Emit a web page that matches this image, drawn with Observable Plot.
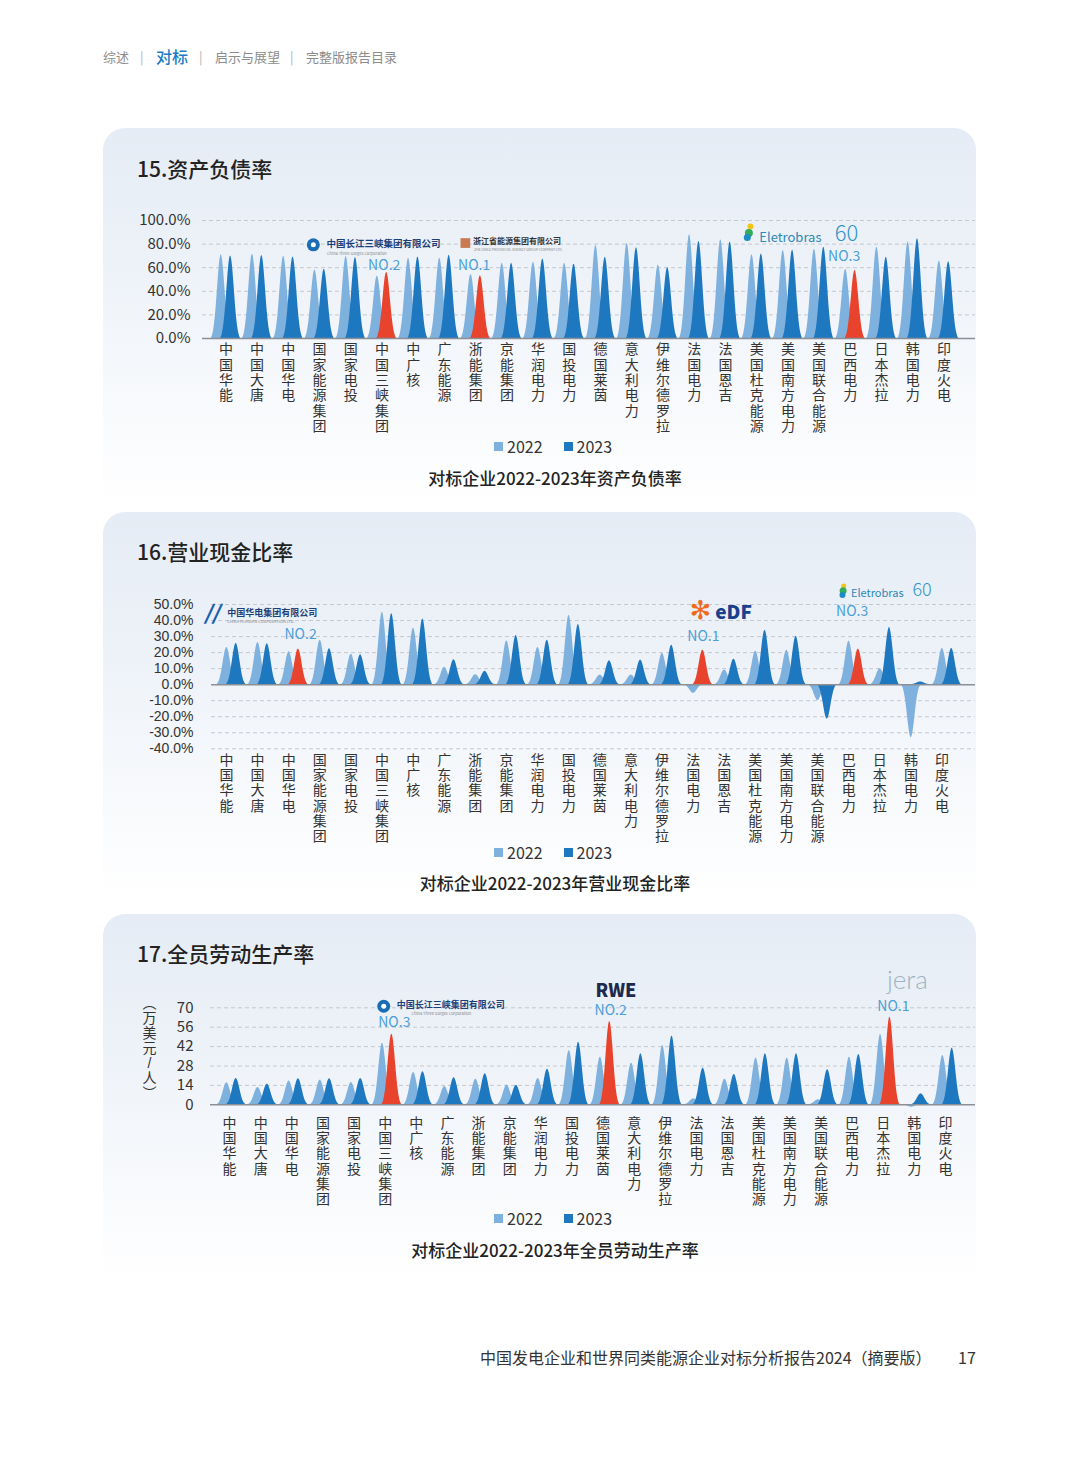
<!DOCTYPE html>
<html><head><meta charset="utf-8">
<script src="https://cdn.jsdelivr.net/npm/d3@7"></script>
<script src="https://cdn.jsdelivr.net/npm/@observablehq/plot@0.6"></script>
<style>
body{margin:0;background:#fff;font-family:"Noto Sans CJK SC","Noto Sans",sans-serif;}
#page{position:relative;width:1080px;height:1466px;overflow:hidden;background:#fff;}
.abs{position:absolute;white-space:nowrap;}
.panel{position:absolute;left:103px;width:873px;border-radius:22px;
 background:linear-gradient(180deg,#e5ecf5 0%,#edf2f8 35%,#f7f9fc 70%,#ffffff 100%);}
.title{position:absolute;left:137px;font-size:21px;font-weight:500;color:#222;line-height:24px;}
.cap{position:absolute;left:0;width:1110px;text-align:center;font-size:17px;font-weight:500;color:#222;line-height:20px;}
.legend{position:absolute;left:494px;font-size:16px;color:#333;line-height:18px;display:flex;align-items:center;}
.sq{display:inline-block;width:9px;height:9px;margin-right:4px;}
.chart{position:absolute;left:0;}
.nav{position:absolute;top:48px;font-size:13px;color:#8c8c8c;line-height:18px;}
.unit{position:absolute;left:141px;top:996px;width:17px;font-family:"Liberation Sans","Noto Sans CJK SC",sans-serif;font-size:14px;line-height:15px;color:#333;text-align:center;}
.unit span{display:block;height:15px;}
</style></head><body><div id="page">
<span class="nav" style="left:103px">综述</span>
<span class="nav" style="left:140px;color:#b0b0b0">|</span>
<span class="nav" style="left:156px;top:45px;font-size:16px;color:#1a7cc6;font-weight:500;line-height:22px">对标</span>
<span class="nav" style="left:199px;color:#b0b0b0">|</span>
<span class="nav" style="left:215px">启示与展望</span>
<span class="nav" style="left:290px;color:#b0b0b0">|</span>
<span class="nav" style="left:306px">完整版报告目录</span>

<div class="panel" style="top:128px;height:380px"></div>
<div class="panel" style="top:512px;height:392px"></div>
<div class="panel" style="top:914px;height:370px"></div>

<div class="title" style="top:156px">15.资产负债率</div>
<div class="title" style="top:539px">16.营业现金比率</div>
<div class="title" style="top:941px">17.全员劳动生产率</div>

<div id="c1" class="chart" style="top:200px"></div>
<div id="c2" class="chart" style="top:580px"></div>
<div id="c3" class="chart" style="top:990px"></div>

<div class="unit"><span>︵</span><span>万</span><span>美</span><span>元</span><span>/</span><span>人</span><span>︶</span></div>

<div class="legend" style="top:437px"><span class="sq" style="background:#7fb1de"></span>2022<span class="sq" style="background:#1e78c0;margin-left:21px"></span>2023</div>
<div class="cap" style="top:468px">对标企业2022-2023年资产负债率</div>
<div class="legend" style="top:843px"><span class="sq" style="background:#7fb1de"></span>2022<span class="sq" style="background:#1e78c0;margin-left:21px"></span>2023</div>
<div class="cap" style="top:873px">对标企业2022-2023年营业现金比率</div>
<div class="legend" style="top:1209px"><span class="sq" style="background:#7fb1de"></span>2022<span class="sq" style="background:#1e78c0;margin-left:21px"></span>2023</div>
<div class="cap" style="top:1240px">对标企业2022-2023年全员劳动生产率</div>

<div class="abs" style="left:480px;top:1347px;font-size:16px;color:#333;line-height:20px">中国发电企业和世界同类能源企业对标分析报告2024（摘要版）</div>
<div class="abs" style="left:958px;top:1347px;font-size:16px;color:#333;line-height:20px">17</div>
</div>
<script>
const companies = ["中国华能","中国大唐","中国华电","国家能源集团","国家电投","中国三峡集团","中广核","广东能源","浙能集团","京能集团","华润电力","国投电力","德国莱茵","意大利电力","伊维尔德罗拉","法国电力","法国恩吉","美国杜克能源","美国南方电力","美国联合能源","巴西电力","日本杰拉","韩国电力","印度火电"];

const debt2022 = [70.9,71.4,69.7,58.0,69.4,52.9,68.0,68.0,54.3,63.7,64.6,63.7,78.9,80.6,62.3,88.0,83.7,70.9,74.6,75.7,58.6,77.4,82.0,65.7];
const debt2023 = [70.0,70.3,69.1,58.6,68.6,56.0,69.1,70.6,53.1,63.7,67.4,63.0,68.9,76.9,60.0,82.3,81.7,71.7,74.9,77.4,57.7,68.9,84.6,65.1];
const debtTicks = [0,20,40,60,80,100];
const debtTop = [5,8,20];

const cash2022 = [23.2,26.3,20.5,27.7,19.0,45.1,35.2,10.8,6.2,27.3,23.2,43.3,6.0,6.0,19.5,-5.4,9.1,20.9,21.5,-9.9,27.1,9.9,-33.1,22.6];
const cash2023 = [25.7,25.5,22.2,22.4,18.6,44.3,41.0,15.5,8.3,30.6,27.7,37.5,14.9,15.3,24.6,21.5,15.9,34.0,30.2,-21.5,22.2,35.6,1.7,22.6];
const cashTicks = [-40,-30,-20,-10,0,10,20,30,40,50];
const cashTop = [2,15,20];

const labor2022 = [15.9,12.5,17.1,17.8,16.1,44.5,23.3,13.2,18.5,14.2,19.0,39.2,34.4,30.0,42.8,4.3,18.5,33.7,33.7,3.6,34.4,50.8,-1.7,35.6];
const labor2023 = [19.0,14.9,18.8,18.8,19.0,51.0,23.8,19.5,22.4,14.0,25.7,45.2,60.1,36.8,49.6,26.5,21.9,36.8,36.8,25.3,36.3,63.3,7.9,40.9];
const laborTicks = [0,14,28,42,56,70];
const laborTop = [5,12,21];

const LIGHT = "#7fb1de", DARK = "#1e78c0", RED = "#e8432c", NOCOL = "#4a9fd8";
const FONT = '"Noto Sans CJK SC","Noto Sans",sans-serif';
const LABEL_FONT = '"Liberation Sans","Noto Sans CJK SC",sans-serif';
const CHAR_STEP = 15.3;

// bell-shaped spike outline for each value
function bells(values, offset, tag) {
  const HW = 0.32, S = 3.6, e = Math.exp(-S);
  const out = [];
  values.forEach((v, i) => {
    for (let k = 0; k <= 40; k++) {
      const t = -1 + k / 20;
      const f = (Math.exp(-S * t * t) - e) / (1 - e);
      out.push({g: tag + i, i, x: i + offset + t * HW, y: v * f});
    }
  });
  return out;
}

function txt(x, y, t, o = {}) {
  return Plot.text([{x, y, t}], {x: "x", y: "y", text: "t", fontSize: 14, fill: NOCOL, fontFamily: FONT, ...o});
}
function dot(x, y, o = {}) {
  return Plot.dot([{x, y}], {x: "x", y: "y", r: 6, fill: "#1a6db5", stroke: "none", ...o});
}

// vertical category labels: one text mark per character row
function vLabels(yBase, dx, dy) {
  const maxLen = d3.max(companies, d => [...d].length);
  return d3.range(maxLen).map(k => {
    const rows = companies.map((name, i) => ({i, ch: [...name][k]})).filter(d => d.ch);
    return Plot.text(rows, {x: "i", y: () => yBase, text: "ch", lineAnchor: "top",
      dx, dy: dy + k * CHAR_STEP, fontSize: 14, fill: "#333", fontFamily: LABEL_FONT});
  });
}

function chart(cfg) {
  const {height, mT, mB, mL, mR, xRange, yDomain, ticks, fmt, pad, tickFont, tickSize, v22, v23, top, labelDx, labelDy, extra} = cfg;
  const hi = new Set(top);
  return Plot.plot({
    width: 1080, height,
    marginTop: mT, marginBottom: mB, marginLeft: mL, marginRight: mR,
    x: {domain: [0, 23], range: xRange, axis: null},
    y: {domain: yDomain, axis: null},
    color: {type: "identity"},
    style: {fontFamily: FONT, color: "#333", background: "transparent", overflow: "visible"},
    marks: [
      Plot.ruleY(ticks.filter(t => t !== 0), {stroke: "#c3c8cf", strokeDasharray: "4,3", strokeWidth: 1}),
      Plot.areaY(bells(v22, -0.15, "a"), {x: "x", y: "y", z: "g", fill: LIGHT}),
      Plot.areaY(bells(v23, 0.15, "b"), {x: "x", y: "y", z: "g", fill: d => hi.has(d.i) ? RED : DARK}),
      Plot.ruleY([0], {stroke: "#8c9096", strokeWidth: 1.5}),
      Plot.axisY({ticks, tickFormat: fmt, tickSize: 0, tickPadding: pad, fontSize: tickSize, fontFamily: tickFont, label: null, anchor: "left"}),
      ...vLabels(yDomain[0], labelDx, labelDy),
      ...extra
    ]
  });
}

const pct = d => d.toFixed(1) + "%";

// Chart 1
document.getElementById("c1").append(chart({
  height: 245, mT: 20, mB: 107, mL: 202, mR: 105, xRange: [225.4, 943.5],
  yDomain: [0, 100], ticks: debtTicks, fmt: pct, pad: 12, tickFont: FONT, tickSize: 15,
  v22: debt2022, v23: debt2023, top: debtTop, labelDx: 0, labelDy: 6,
  extra: [
    dot(2.80, 79.4, {r: 6.5}), dot(2.80, 79.4, {r: 2.5, fill: "#fff"}),
    txt(5.05, 80.2, "中国长江三峡集团有限公司", {fontSize: 9.5, fontWeight: 700, fill: "#1c3f7a"}),
    txt(3.24, 72.1, "China Three Gorges Corporation", {fontSize: 4, fill: "#888", textAnchor: "start"}),
    txt(5.07, 61.9, "NO.2"),
    dot(7.67, 80.9, {symbol: "square", r: 5.5, fill: "#c87a52"}),
    txt(9.32, 82.5, "浙江省能源集团有限公司", {fontSize: 8, fontWeight: 700, fill: "#333"}),
    txt(7.95, 75.4, "ZHEJIANG PROVINCIAL ENERGY GROUP COMPANY LTD.", {fontSize: 3.5, fill: "#888", textAnchor: "start"}),
    txt(7.95, 61.9, "NO.1"),
    dot(16.8, 95, {r: 3, fill: "#f2c418"}), dot(16.75, 89.5, {r: 4, fill: "#33ad5a"}), dot(16.7, 85.5, {r: 3.5, fill: "#1b8cc4"}),
    txt(18.08, 85.3, "Eletrobras", {fontSize: 13, fill: "#2f86b8"}),
    txt(19.88, 88.7, "60", {fontSize: 22, fill: "#2f95c8", fontWeight: 300}),
    txt(19.8, 69.7, "NO.3")
  ]
}));

// Chart 2
document.getElementById("c2").append(chart({
  height: 275, mT: 24, mB: 106.7, mL: 211, mR: 105, xRange: [231, 946.5],
  yDomain: [-40, 50], ticks: cashTicks, fmt: pct, pad: 18, tickFont: LABEL_FONT, tickSize: 14,
  v22: cash2022, v23: cash2023, top: cashTop, labelDx: -5, labelDy: 6,
  extra: [
    txt(-0.63, 44.1, "//", {fontSize: 20, fontWeight: 900, fill: "#1a5fb0", fontStyle: "italic"}),
    txt(1.31, 44.9, "中国华电集团有限公司", {fontSize: 9, fontWeight: 700, fill: "#1d3f7a"}),
    txt(-0.14, 39.1, "CHINA HUADIAN CORPORATION LTD.", {fontSize: 4, fill: "#888", textAnchor: "start"}),
    txt(2.22, 31, "NO.2"),
    txt(15.07, 46.3, "✻", {fontSize: 26, fill: "#f06a1e", fontFamily: "DejaVu Sans"}),
    txt(16.14, 44.5, "eDF", {fontSize: 19, fontWeight: 800, fill: "#1a3f8c"}),
    txt(15.17, 30, "NO.1"),
    dot(19.68, 61.5, {r: 2.5, fill: "#f2c418"}), dot(19.66, 58.5, {r: 3.5, fill: "#33ad5a"}), dot(19.64, 56, {r: 3, fill: "#1b8cc4"}),
    txt(20.76, 57, "Eletrobras", {fontSize: 11, fill: "#2f86b8"}),
    txt(22.2, 59.1, "60", {fontSize: 18, fill: "#2f95c8", fontWeight: 300}),
    txt(19.95, 45.5, "NO.3")
  ]
}));

// Chart 3
document.getElementById("c3").append(chart({
  height: 225, mT: 17.3, mB: 110.7, mL: 210, mR: 105, xRange: [231, 947],
  yDomain: [0, 70], ticks: laborTicks, fmt: d => String(d), pad: 17, tickFont: FONT, tickSize: 15,
  v22: labor2022, v23: labor2023, top: laborTop, labelDx: -2, labelDy: 13,
  extra: [
    dot(4.89, 71.1, {r: 6.5}), dot(4.89, 71.1, {r: 2.5, fill: "#fff"}),
    txt(7.04, 71.6, "中国长江三峡集团有限公司", {fontSize: 9, fontWeight: 700, fill: "#1c3f7a"}),
    txt(5.78, 65.6, "China Three Gorges Corporation", {fontSize: 4, fill: "#888", textAnchor: "start"}),
    txt(5.23, 59.6, "NO.3"),
    txt(12.35, 82, "RWE", {fontSize: 18, fontWeight: 800, fill: "#1d2a4d"}),
    txt(12.18, 68, "NO.2"),
    txt(21.71, 89.7, "jera", {fontSize: 26, fontWeight: 300, fill: "#9fb3c1", fontFamily: "Lato", letterSpacing: 3}),
    txt(21.26, 71.1, "NO.1")
  ]
}));
</script>
</body></html>
